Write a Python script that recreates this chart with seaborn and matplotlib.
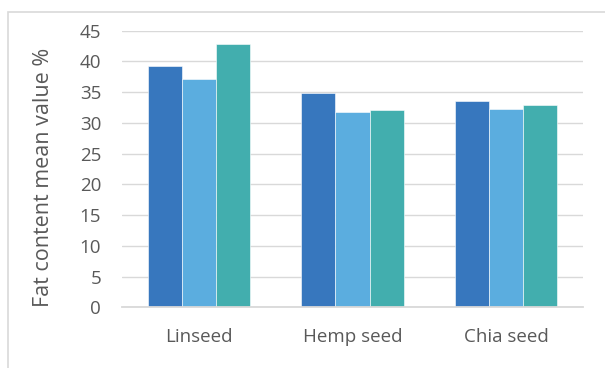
import matplotlib
matplotlib.use("Agg")
import matplotlib.pyplot as plt
import seaborn as sns
import pandas as pd
from matplotlib.patches import Rectangle

categories = ["Linseed", "Hemp seed", "Chia seed"]
series_names = ["Series 1", "Series 2", "Series 3"]
series1 = [39.3, 34.8, 33.5]
series2 = [37.2, 31.7, 32.3]
series3 = [42.8, 32.1, 32.9]
yticks = [0, 5, 10, 15, 20, 25, 30, 35, 40, 45]
colors = ["#3777BE", "#5BADDF", "#42AEAE"]

rows = []
for name, vals in zip(series_names, [series1, series2, series3]):
    for c, v in zip(categories, vals):
        rows.append({"cat": c, "series": name, "value": v})
df = pd.DataFrame(rows)

sns.set_theme(style="white")
plt.rcParams["font.family"] = ["Open Sans", "DejaVu Sans"]
text_color = "#595959"

fig = plt.figure(figsize=(6.05, 3.68), dpi=100)
ax = fig.add_axes([122/605, 1-307.3/368, (583-122)/605, (307.3-30.7)/368])

sns.barplot(data=df, x="cat", y="value", hue="series", order=categories,
            hue_order=series_names, palette=colors, width=0.668, gap=0,
            saturation=1, legend=False, ax=ax, edgecolor="white", linewidth=0.4)

ax.set_ylim(0, 45)
ax.set_yticks(yticks)
ax.set_xlim(-0.5, 2.5)
ax.yaxis.grid(True, color="#D9D9D9", linewidth=1.0)
ax.set_axisbelow(True)
for s in ["top", "right", "left"]:
    ax.spines[s].set_visible(False)
ax.spines["bottom"].set_color("#D9D9D9")
ax.spines["bottom"].set_linewidth(1.3)
ax.tick_params(axis="both", length=0, labelsize=13.5, colors=text_color)
ax.tick_params(axis="y", pad=15)
ax.tick_params(axis="x", pad=15)
ax.set_xlabel("")
ax.set_ylabel("Fat content mean value %", fontsize=15.5, color=text_color)
ax.yaxis.set_label_coords(-0.148, 0.47)

fig.patches.append(Rectangle((8/605, -0.1), 1.2, 1 - 12/368 + 0.1,
                             transform=fig.transFigure, fill=False,
                             edgecolor="#D9D9D9", linewidth=1.2))

fig.savefig("out.png", dpi=100)
